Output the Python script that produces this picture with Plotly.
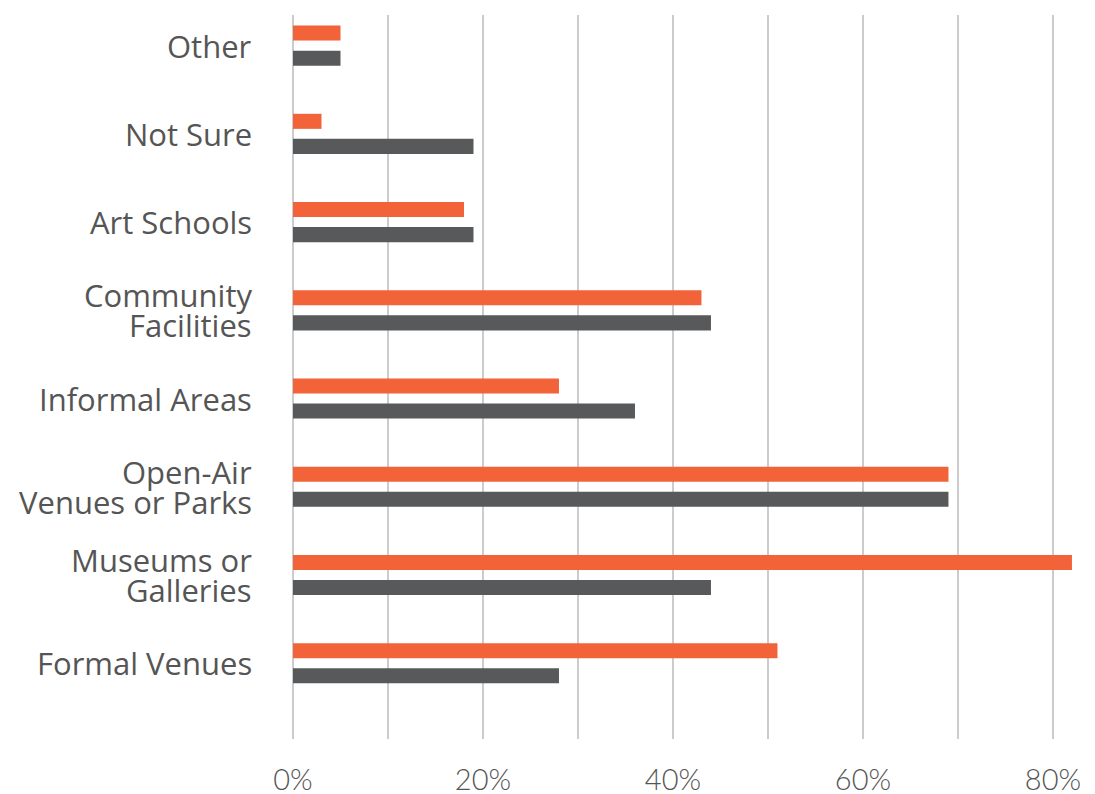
import plotly.graph_objects as go

categories = ["Formal Venues", "Museums or<br>Galleries", "Open-Air<br>Venues or Parks",
              "Informal Areas", "Community<br>Facilities", "Art Schools", "Not Sure", "Other"]
orange_vals = [51, 82, 69, 28, 43, 18, 3, 5]
gray_vals = [28, 44, 69, 36, 44, 19, 19, 5]
tick_vals = [0, 10, 20, 30, 40, 50, 60, 70, 80]
tick_text = ["0%", "", "20%", "", "40%", "", "60%", "", "80%"]

fig = go.Figure()
fig.add_trace(go.Bar(y=categories, x=gray_vals, orientation="h",
                     marker=dict(color="#58595B", line=dict(width=0)), name="Gray"))
fig.add_trace(go.Bar(y=categories, x=orange_vals, orientation="h",
                     marker=dict(color="#F26339", line=dict(width=0)), name="Orange"))

# category labels as right-aligned text lines with tight line spacing
line_pitch = 30
annotations = []
for cat in categories:
    lines = cat.split("<br>")
    n = len(lines)
    for i, ln in enumerate(lines):
        annotations.append(dict(
            x=0, y=cat, xref="x", yref="y", text=ln, showarrow=False,
            xanchor="right", yanchor="middle", xshift=-39,
            yshift=((n - 1) / 2 - i) * line_pitch,
            font=dict(family="Open Sans, sans-serif", size=31, color="#555555"),
        ))

fig.update_layout(
    width=1087, height=793,
    barmode="group", bargap=0.432, bargroupgap=0.40,
    showlegend=False,
    plot_bgcolor="white", paper_bgcolor="white",
    margin=dict(l=285, r=5, t=7, b=57),
    font=dict(family="Lato, Noto Sans, sans-serif", color="#555555"),
    annotations=annotations,
)
fig.update_xaxes(range=[0, 83.9], tickvals=tick_vals, ticktext=tick_text,
                 showgrid=True, gridcolor="#cccccc", gridwidth=1.5,
                 zeroline=True, zerolinecolor="#cccccc", zerolinewidth=1.5,
                 showline=False, ticks="", ticklabelstandoff=21,
                 tickfont=dict(family="Lato, sans-serif", size=29, color="#555555", weight=300))
fig.update_yaxes(range=[-0.858, 7.347], showgrid=False, zeroline=False, showline=False,
                 ticks="", showticklabels=False)

fig.write_html("out.html")
